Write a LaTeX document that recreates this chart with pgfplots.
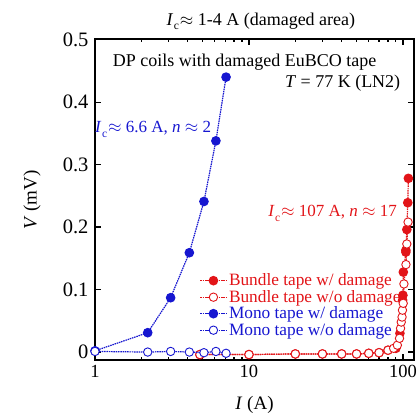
\documentclass[border=0pt]{standalone}
\usepackage{pgfplots}
\pgfplotsset{compat=1.18}
\usepackage{fontspec}
\setmainfont{Liberation Serif}
\definecolor{dred}{RGB}{226,20,24}
\definecolor{dblue}{RGB}{22,22,208}
\newcommand{\Ic}{\textit{I}\kern0.5pt\raisebox{-5pt}{\fontsize{11.5}{12}\selectfont c}\kern1pt}
\begin{document}
\begin{tikzpicture}
\begin{axis}[
  name=ax,
  scale only axis,
  width=319pt, height=321pt,
  clip mode=individual,
  xmode=log,
  xmin=1, xmax=118,
  ymin=-0.0127, ymax=0.501,
  xtick={1,10,100}, xticklabels={1,10,100},
  minor xtick={},
  ytick={0,0.1,0.2,0.3,0.4,0.5},
  yticklabels={0,0.1,0.2,0.3,0.4,0.5},
  tick align=inside,
  major tick length=6pt,
  axis line style={line width=1.4pt},
  every tick/.style={line width=1.2pt, black},
  x tick label style={font=\fontsize{18.5}{20}\selectfont, yshift=-2pt},
  y tick label style={font=\fontsize{20.5}{22}\selectfont, xshift=-3pt},
  xlabel={\textit{I} (A)},
  ylabel={\textit{V} (mV)},
  label style={font=\fontsize{19}{20}\selectfont},
  xlabel style={at={(axis description cs:0.5,-0.14)}, anchor=center},
  ylabel style={at={(axis description cs:-0.197,0.498)}, anchor=center},
  every axis plot/.append style={line width=1.2pt, dash pattern=on 1.5pt off 0.8pt, mark size=4.2pt},
  legend style={at={(rel axis cs:0.328,0.275)}, anchor=north west, draw=none, fill=none,
    font=\fontsize{17.3}{18}\selectfont, row sep=-1pt, inner sep=0pt},
  legend cell align=left,
  legend image code/.code={
    \draw[#1, mark repeat=2, mark phase=2] plot coordinates {(0pt,0pt)(13pt,0pt)(26pt,0pt)};
  },
]
% Bundle tape w/ damage
\addplot[color=dred, mark=*, mark options={solid, fill=dred}] coordinates {
  (4.8,-0.004)(10,-0.004)(20,-0.003)(30,-0.003)(40,-0.003)(50,-0.003)(60,-0.002)
  (70,-0.001)(80,0.003)(90,0.006)(95.6,0.030)(99.5,0.083)(100,0.091)(100.6,0.128)
  (104.5,0.160)(104.5,0.163)(106,0.196)(107.5,0.239)(108.5,0.278)};
\addlegendentry{\textcolor{dred}{Bundle tape w/ damage}}
% Bundle tape w/o damage
\addplot[color=dred, mark=*, mark options={solid, fill=white, line width=0.9pt}] coordinates {
  (4.8,-0.004)(10,-0.004)(20,-0.003)(30,-0.003)(40,-0.003)(50,-0.003)(60,-0.002)
  (70,-0.001)(80,0.003)(87,0.006)(92,0.011)(95,0.022)(96.5,0.038)(97.5,0.048)
  (98.7,0.056)(99.3,0.067)(100.4,0.078)(101.5,0.109)(104.6,0.140)(106,0.173)(108,0.208)};
\addlegendentry{\textcolor{dred}{Bundle tape w/o damage}}
% Mono tape w/ damage
\addplot[color=dblue, mark=*, mark options={solid, fill=dblue}] coordinates {
  (1,0.002)(2.2,0.031)(3.1,0.087)(4.1,0.159)(5.1,0.241)(6.1,0.338)(7.1,0.440)};
\addlegendentry{\textcolor{dblue}{Mono tape w/ damage}}
% Mono tape w/o damage
\addplot[color=dblue, mark=*, mark options={solid, fill=white, line width=0.9pt}] coordinates {
  (1,0.001)(2.2,0.0)(3.1,0.001)(4.1,0.0)(5.1,-0.001)(6.1,0.001)(7.1,-0.002)};
\addlegendentry{\textcolor{dblue}{Mono tape w/o damage}}

\node[anchor=west, font=\fontsize{18}{19}\selectfont] at (rel axis cs:0.045,0.928)
  {DP coils with damaged EuBCO tape};
\node[anchor=east, font=\fontsize{18}{19}\selectfont] at (rel axis cs:0.968,0.863)
  {\textit{T} = 77 K (LN2)};
\node[anchor=west, font=\fontsize{17}{18}\selectfont, text=dblue, inner sep=0pt] at (rel axis cs:0.0,0.717)
  {\Ic$\approx$ 6.6 A, \textit{n} $\approx$ 2};
\node[anchor=east, font=\fontsize{17}{18}\selectfont, text=dred, inner sep=0pt] at (rel axis cs:0.947,0.458)
  {\Ic$\approx$ 107 A, \textit{n} $\approx$ 17};
\node[anchor=base, font=\fontsize{18}{19}\selectfont, inner sep=0pt] at ([yshift=14pt]rel axis cs:0.52,1)
  {\Ic$\approx$ 1-4 A (damaged area)};
\end{axis}
\pgfresetboundingbox
\path (ax.south west) ++(-95pt,-56pt) coordinate (bl);
\path (ax.north east) ++(4pt,39pt) coordinate (tr);
\path[use as bounding box] (bl) rectangle (tr);
\end{tikzpicture}
\end{document}
